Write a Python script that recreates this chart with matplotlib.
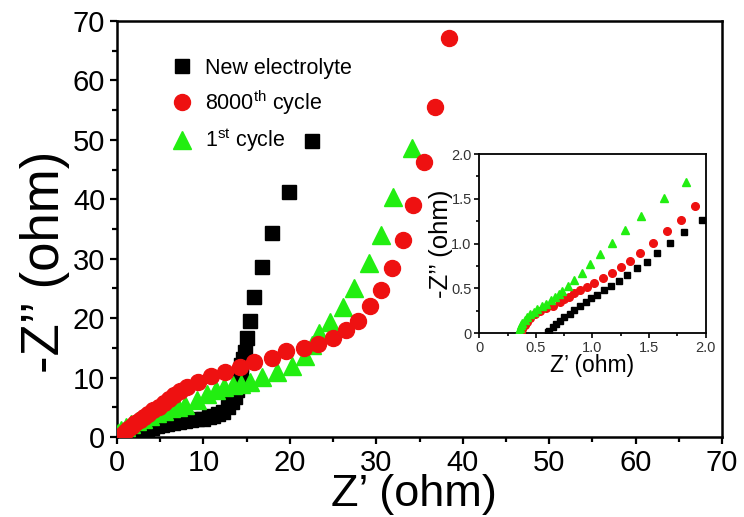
import numpy as np
import matplotlib
matplotlib.use("Agg")
import matplotlib.pyplot as plt
from matplotlib.ticker import MultipleLocator, FuncFormatter

plt.rcParams['font.family'] = ['Liberation Sans', 'DejaVu Sans']
plt.rcParams['mathtext.fontset'] = 'custom'
plt.rcParams['mathtext.rm'] = 'Liberation Sans'

# main plot data (Z', -Z'')
new_x = [1.9, 2.2, 2.6, 3.0, 3.5, 4.0, 4.6, 5.2, 5.8, 6.5, 7.2, 7.9, 8.6, 9.3, 10.0,
         10.6, 11.1, 11.7, 12.3, 12.8, 13.3, 13.6, 13.9, 14.1, 14.2, 14.3, 14.4, 14.6,
         14.8, 15.0, 15.4, 15.9, 16.8, 17.9, 19.9, 22.6]
new_y = [0.0, 0.3, 0.6, 0.9, 1.2, 1.5, 1.8, 2.0, 2.2, 2.4, 2.5, 2.7, 2.8, 3.0, 3.1,
         3.3, 3.5, 3.8, 4.2, 5.0, 5.9, 6.8, 7.9, 9.0, 10.1, 11.1, 12.1, 13.2,
         14.3, 16.6, 19.6, 23.6, 28.6, 34.3, 41.2, 49.8]

c8000_x = [0.3, 0.6, 0.9, 1.3, 1.7, 2.1, 2.6, 3.1, 3.6, 4.2, 4.8, 5.4, 6.0, 6.6, 7.3,
           8.1, 9.4, 10.9, 12.5, 14.2, 15.9, 17.9, 19.6, 21.6, 23.3, 25.0, 26.5, 27.9,
           29.3, 30.5, 31.8, 33.1, 34.3, 35.5, 36.8, 38.4]
c8000_y = [0.0, 0.4, 0.8, 1.3, 1.8, 2.3, 2.8, 3.4, 3.9, 4.5, 5.1, 5.8, 6.4, 7.0, 7.7,
           8.5, 9.3, 10.2, 11.0, 11.8, 12.7, 13.3, 14.4, 14.9, 15.7, 16.6, 18.0, 19.6,
           22.1, 24.8, 28.4, 33.2, 39.1, 46.3, 55.5, 67.1]

c1_x = [0.1, 0.5, 1.0, 1.6, 2.3, 3.0, 3.8, 4.6, 5.4, 6.2, 7.0, 7.9, 9.2, 10.4, 11.4,
        12.4, 13.4, 14.4, 15.4, 16.8, 18.5, 20.2, 21.8, 22.6, 23.4, 24.7, 26.1, 27.4,
        29.1, 30.6, 31.9, 34.1]
c1_y = [0.6, 1.2, 1.7, 2.2, 2.7, 3.1, 3.6, 4.0, 4.4, 4.8, 5.1, 5.4, 6.2, 7.2, 7.9,
        8.5, 8.8, 9.0, 9.2, 10.1, 10.9, 12.0, 13.7, 15.5, 17.5, 19.4, 21.9, 25.0,
        29.3, 34.0, 40.4, 48.6]

# inset data (zoom on high-frequency region)
in_new_x = [0.61, 0.62, 0.65, 0.68, 0.71, 0.75, 0.80, 0.84, 0.89, 0.94, 0.99, 1.04,
            1.10, 1.16, 1.234, 1.308, 1.39, 1.478, 1.572, 1.685, 1.808, 1.964]
in_new_y = [0.01, 0.03, 0.07, 0.10, 0.14, 0.18, 0.22, 0.26, 0.30, 0.35, 0.39, 0.43,
            0.48, 0.53, 0.587, 0.65, 0.725, 0.799, 0.892, 1.004, 1.134, 1.264]

in_8000_x = [0.37, 0.38, 0.40, 0.42, 0.45, 0.49, 0.54, 0.59, 0.65, 0.71, 0.75, 0.79,
             0.84, 0.89, 0.948, 1.013, 1.09, 1.169, 1.249, 1.331, 1.42, 1.538, 1.661,
             1.782, 1.908]
in_8000_y = [0.02, 0.05, 0.09, 0.13, 0.17, 0.21, 0.25, 0.28, 0.31, 0.35, 0.38, 0.41,
             0.45, 0.48, 0.52, 0.565, 0.613, 0.669, 0.736, 0.81, 0.899, 1.011, 1.145,
             1.264, 1.423]

in_1_x = [0.35, 0.35, 0.36, 0.37, 0.38, 0.40, 0.42, 0.45, 0.48, 0.51, 0.55, 0.59, 0.63,
          0.67, 0.70, 0.73, 0.78, 0.837, 0.905, 0.978, 1.066, 1.169, 1.29, 1.43, 1.63,
          1.823]
in_1_y = [0.0, 0.03, 0.06, 0.09, 0.12, 0.15, 0.18, 0.21, 0.24, 0.27, 0.30, 0.33, 0.37,
          0.41, 0.44, 0.47, 0.53, 0.595, 0.676, 0.773, 0.885, 1.011, 1.152, 1.308,
          1.506, 1.69]

c_black = '#000000'
c_red = '#ee1111'
c_green = '#22ee11'

fig = plt.figure(figsize=(7.44, 5.17), dpi=100)
ax = fig.add_axes([0.1573, 0.1547, 0.8131, 0.8047])

ax.plot(new_x, new_y, ls='none', marker='s', ms=10.5, color=c_black, mec=c_black,
        label='New electrolyte', zorder=2)
ax.plot(c1_x, c1_y, ls='none', marker='^', ms=13, color=c_green, mec=c_green,
        label='1$^{\\rm st}$ cycle', zorder=3)
ax.plot(c8000_x, c8000_y, ls='none', marker='o', ms=11.5, color=c_red, mec=c_red,
        label='8000$^{\\rm th}$ cycle', zorder=4)

ax.set_xlim(0, 70)
ax.set_ylim(0, 70)
ax.xaxis.set_major_locator(MultipleLocator(10))
ax.xaxis.set_minor_locator(MultipleLocator(5))
ax.yaxis.set_major_locator(MultipleLocator(10))
ax.yaxis.set_minor_locator(MultipleLocator(5))
ax.tick_params(which='both', direction='out', width=1.6, labelsize=21, top=False, right=False)
ax.tick_params(which='major', length=5)
ax.tick_params(which='minor', length=3.5)
for s in ax.spines.values():
    s.set_linewidth(1.8)
ax.set_xlabel('Z\u2019 (ohm)', fontsize=32.5)
ax.xaxis.set_label_coords(0.49, -0.09)
ax.set_ylabel('-Z\u2019\u2019 (ohm)', fontsize=38)
ax.yaxis.set_label_coords(-0.078, 0.42)

h, l = ax.get_legend_handles_labels()
order = [0, 2, 1]
ax.legend([h[i] for i in order], [l[i] for i in order], loc='upper left',
          bbox_to_anchor=(0.09, 0.912), frameon=False, fontsize=15.5,
          handlelength=1.0, handletextpad=0.55, labelspacing=0.45,
          borderpad=0, borderaxespad=0)

# inset
ins = fig.add_axes([0.6442, 0.3553, 0.3043, 0.3468])
ins.plot(in_new_x, in_new_y, ls='none', marker='s', ms=5, color=c_black, zorder=2)
ins.plot(in_8000_x, in_8000_y, ls='none', marker='o', ms=5.5, color=c_red, zorder=3)
ins.plot(in_1_x, in_1_y, ls='none', marker='^', ms=6, color=c_green, zorder=4)
ins.set_xlim(0, 2.0)
ins.set_ylim(0, 2.0)
fmt = FuncFormatter(lambda v, p: '0' if abs(v) < 1e-9 else '%.1f' % v)
for a in (ins.xaxis, ins.yaxis):
    a.set_major_locator(MultipleLocator(0.5))
    a.set_minor_locator(MultipleLocator(0.25))
    a.set_major_formatter(fmt)
ins.tick_params(which='both', direction='out', width=1.2, labelsize=10.5,
                labelcolor='#333333', top=False, right=False, pad=2)
ins.tick_params(which='major', length=3.5)
ins.tick_params(which='minor', length=2)
for s in ins.spines.values():
    s.set_linewidth(1.3)
ins.set_xlabel('Z\u2019 (ohm)', fontsize=16.5, labelpad=-1)
ins.set_ylabel('-Z\u2019\u2019 (ohm)', fontsize=18.5, labelpad=-1)

fig.savefig('out.png', dpi=100)
